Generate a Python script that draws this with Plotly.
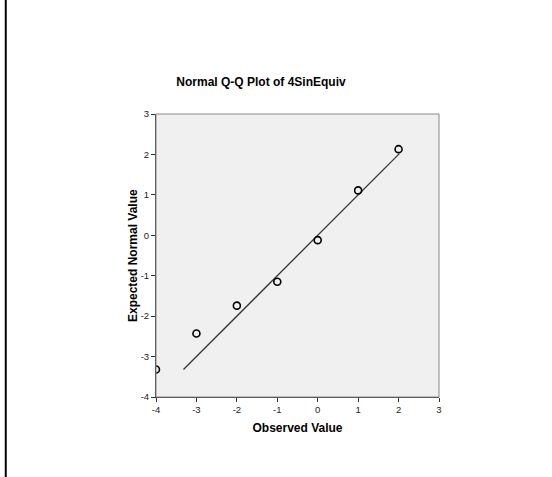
import plotly.graph_objects as go

# Normal Q-Q data for 4SinEquiv
observed = [-4, -3, -2, -1, 0, 1, 2]
expected = [-3.32, -2.43, -1.74, -1.15, -0.12, 1.11, 2.13]

# Reference line (expected = observed)
ref_x = [-3.32, 2.02]
ref_y = [-3.32, 2.02]

tick_vals = [-4, -3, -2, -1, 0, 1, 2, 3]
tick_text = ["-4", "-3", "-2", "-1", "0", "1", "2", "3"]

W, H = 552, 477
ML, MR, MT, MB = 155.5, 113, 114, 80
FONT = "Liberation Sans, Arial, sans-serif"

fig = go.Figure()

fig.add_trace(go.Scatter(
    x=ref_x, y=ref_y, mode="lines",
    line=dict(color="#333333", width=1.3),
    hoverinfo="skip", showlegend=False,
))

fig.add_trace(go.Scatter(
    x=observed, y=expected, mode="markers", cliponaxis=True,
    marker=dict(symbol="circle-open", size=7, color="#000000",
                line=dict(width=1.6, color="#000000")),
    showlegend=False,
))

axis_common = dict(
    range=[-4, 3], tickvals=tick_vals, ticktext=tick_text,
    showgrid=False, zeroline=False,
    showline=True, linecolor="#333333", linewidth=1,
    ticks="outside", ticklen=4, tickcolor="#333333", tickwidth=1,
    tickfont=dict(family=FONT, size=9.5, color="#222222"),
)

fig.update_xaxes(**axis_common,
                 title=dict(text="<b>Observed Value</b>", standoff=9,
                            font=dict(family=FONT, size=12, color="#000000")))
fig.update_yaxes(**axis_common)

pw = W - ML - MR
ph = H - MT - MB
# y-axis title placed beside the tick labels
fig.add_annotation(text="<b>Expected Normal Value</b>", textangle=-90,
                   xref="paper", yref="paper", x=(132 - ML) / pw, y=0.5,
                   xanchor="center", yanchor="middle", showarrow=False,
                   font=dict(family=FONT, size=12, color="#000000"))
# frame on top and right edges of the plotting area
fig.add_shape(type="rect", xref="paper", yref="paper", x0=0, y0=0, x1=1, y1=1,
              line=dict(color="#888888", width=1), layer="above")
# vertical rule along the left edge of the page
fig.add_shape(type="line", xref="paper", yref="paper",
              x0=(5 - ML) / pw, x1=(5 - ML) / pw,
              y0=-MB / ph, y1=1 + MT / ph,
              line=dict(color="#000000", width=2))

fig.update_layout(
    width=W, height=H,
    margin=dict(l=ML, r=MR, t=MT, b=MB, pad=0),
    paper_bgcolor="#ffffff", plot_bgcolor="#f0f0f0",
    title=dict(text="<b>Normal Q-Q Plot of 4SinEquiv</b>", x=261 / W, xanchor="center",
               y=1 - 82 / H, yanchor="middle", yref="container",
               font=dict(family=FONT, size=12, color="#000000")),
    font=dict(family=FONT),
)

fig.write_html("out.html")
